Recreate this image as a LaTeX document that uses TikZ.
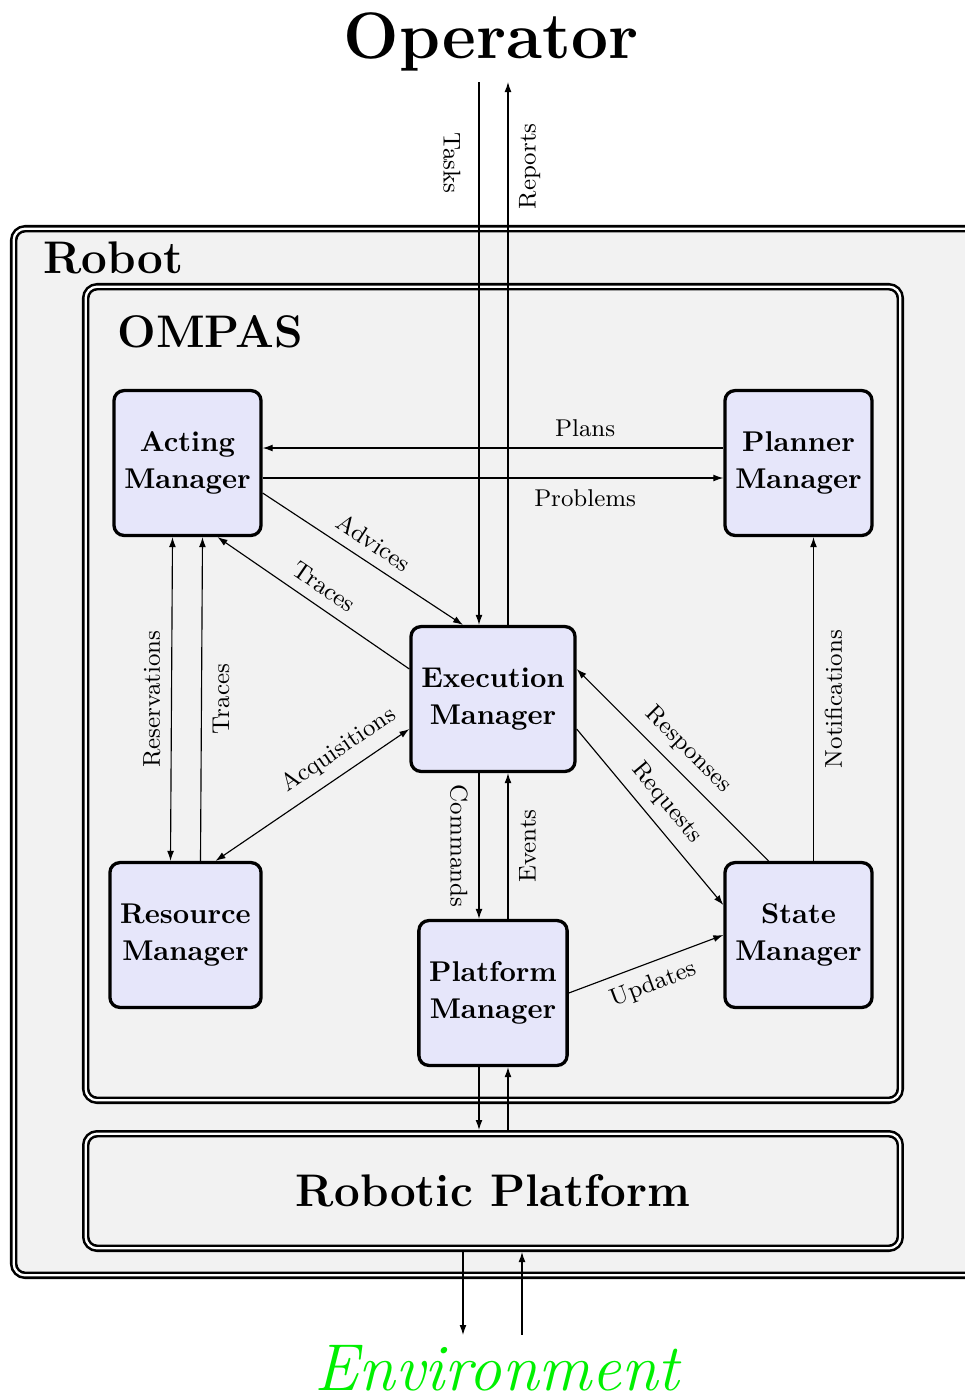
\documentclass[tikz,border=0pt]{standalone}
\usetikzlibrary{arrows.meta,calc}
\definecolor{boxfill}{RGB}{230,230,250}
\definecolor{bggray}{RGB}{242,242,242}
\definecolor{envgreen}{RGB}{0,240,0}
\begin{document}
\begin{tikzpicture}[x=0.35pt,y=-0.35pt,
  >={Latex[length=3.5pt,width=2.4pt]},
  conn/.style={line width=0.4pt},
  mgr/.style={draw, line width=1.15pt, rounded corners=3.5pt, fill=boxfill, align=center,
    font=\fontsize{10}{13}\selectfont\bfseries, inner xsep=3.6pt, inner ysep=0pt, minimum height=50.7pt},
  lbl/.style={font=\fontsize{8.5}{10}\selectfont, inner sep=3.7pt},
  container/.style={draw, double, line width=0.9pt, double distance=0.8pt, fill=bggray, rounded corners=4pt},
  title/.style={font=\fontsize{16}{19}\selectfont\bfseries, inner sep=0pt},
  huge/.style={inner sep=0pt}
]
\useasboundingbox (0,0) rectangle (965,1394);
\clip (0,0) rectangle (965,1394);

% containers
\draw[container] (13.7,228.7) rectangle (1020,1275.3);
\draw[container] (85.7,286.7) rectangle (900.3,1100.3);
\node[container, title, minimum width=285.1pt, minimum height=40.1pt, outer sep=1.3pt] (RP) at (493,1191) {Robotic Platform};

% titles
\node[huge, font=\fontsize{23}{27}\selectfont\bfseries, anchor=base] (Operator) at (491,58) {Operator};
\node[huge, font=\fontsize{23.2}{27}\selectfont\itshape, text=envgreen, anchor=base] (Env) at (497,1390) {Environment};
\node[title, anchor=base west] (RobotT) at (43,273) {Robot};
\node[title, anchor=base west] (OmpasT) at (117,347) {OMPAS};

% managers
\node[mgr] (Acting)   at (187.5,463) {Acting\\Manager};
\node[mgr] (Planner)  at (798.5,463) {Planner\\Manager};
\node[mgr] (Exec)     at (493,699)   {Execution\\Manager};
\node[mgr] (Resource) at (185.5,935) {Resource\\Manager};
\node[mgr] (State)    at (798.5,935) {State\\Manager};
\node[mgr] (Platform) at (493,993)   {Platform\\Manager};

% free ends
\coordinate (opL) at (479,82);
\coordinate (opR) at (508,82);
\coordinate (envL) at (463,1335);
\coordinate (envR) at (522,1335);

% operator links
\draw[conn,->] (opL) -- (opL |- Exec.north)
  node[lbl, pos=0.149, rotate=-90, anchor=north, inner ysep=6.3pt] {Tasks};
\draw[conn,<-] (opR) -- (opR |- Exec.north)
  node[lbl, pos=0.155, rotate=90, anchor=north] {Reports};

% acting <-> planner
\draw[conn,<-] ($(Acting.east)+(0,-15)$) -- ($(Planner.west)+(0,-15)$)
  node[lbl, pos=0.7, above] {Plans};
\draw[conn,->] ($(Acting.east)+(0,15)$) -- ($(Planner.west)+(0,15)$)
  node[lbl, pos=0.7, below] {Problems};

% acting <-> exec
\draw[conn,->] ($(Acting.east)+(0,30)$) -- ($(Exec.north)+(-30,0)$)
  node[lbl, midway, sloped, above] {Advices};
\draw[conn,<-] ($(Acting.south)+(30,0)$) -- ($(Exec.west)+(0,-30)$)
  node[lbl, midway, sloped, above] {Traces};

% acting <-> resource
\draw[conn,<->] ($(Resource.north)+(-15,0)$) -- ($(Acting.south)+(-15,0)$)
  node[lbl, midway, rotate=90, anchor=south] {Reservations};
\draw[conn,->] ($(Resource.north)+(15,0)$) -- ($(Acting.south)+(15,0)$)
  node[lbl, midway, rotate=90, anchor=north] {Traces};

% resource <-> exec
\draw[conn,<->] ($(Resource.north)+(30,0)$) -- ($(Exec.west)+(0,30)$)
  node[lbl, pos=0.7, sloped, above] {Acquisitions};

% exec <-> state
\draw[conn,<-] ($(Exec.east)+(0,-30)$) -- ($(State.north)+(-30,0)$)
  node[lbl, midway, sloped, above] {Responses};
\draw[conn,->] ($(Exec.east)+(0,30)$) -- ($(State.west)+(0,-30)$)
  node[lbl, midway, sloped, above] {Requests};

% state -> planner
\draw[conn,->] ($(State.north)+(15,0)$) -- ($(Planner.south)+(15,0)$)
  node[lbl, midway, rotate=90, anchor=north] {Notifications};

% exec <-> platform
\draw[conn,->] ($(Exec.south)+(-14,0)$) -- ($(Platform.north)+(-14,0)$)
  node[lbl, midway, rotate=-90, anchor=north] {Commands};
\draw[conn,<-] ($(Exec.south)+(15,0)$) -- ($(Platform.north)+(15,0)$)
  node[lbl, midway, rotate=90, anchor=north] {Events};

% platform -> state
\draw[conn,->] (Platform.east) -- (State.west)
  node[lbl, midway, sloped, below] {Updates};

% platform <-> robotic platform
\draw[conn,->] ($(Platform.south)+(-14,0)$) coordinate (pd) -- (pd |- RP.north);
\draw[conn,<-] ($(Platform.south)+(15,0)$) coordinate (pu) -- (pu |- RP.north);

% robotic platform <-> environment
\draw[conn,->] (RP.south -| envL) -- (envL);
\draw[conn,<-] (RP.south -| envR) -- (envR);
\end{tikzpicture}
\end{document}
